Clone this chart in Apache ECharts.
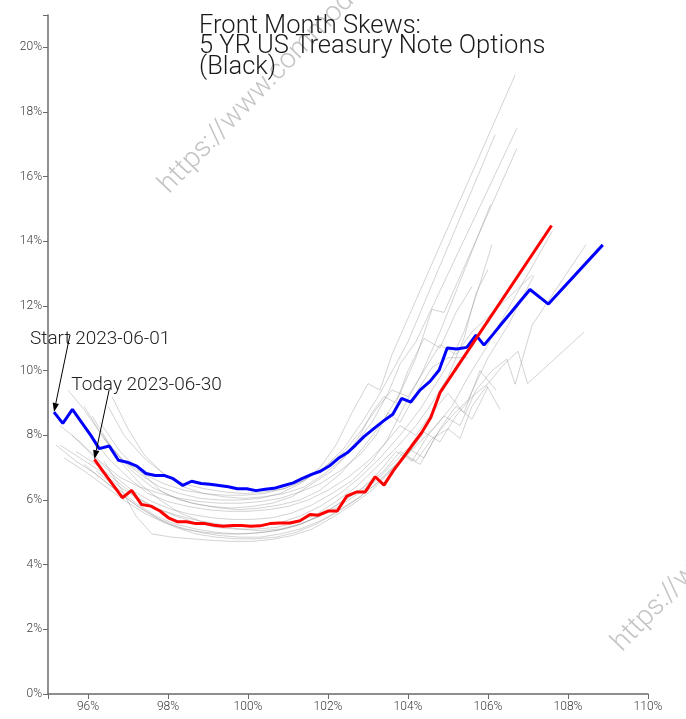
<!DOCTYPE html>
<html>
<head>
<meta charset="utf-8">
<script src="https://cdn.jsdelivr.net/npm/echarts@6/dist/echarts.min.js"></script>
<style>
html,body{margin:0;padding:0;background:#fff;}
#chart{width:686px;height:719px;}
</style>
</head>
<body>
<div id="chart"></div>
<script>
// ---------- data ----------
var titleText = "Front Month Skews:\n5 YR US Treasury Note Options\n(Black)";
var xTickValues = [95, 96, 98, 100, 102, 104, 106, 108, 110];
var xLabelValues = [96, 98, 100, 102, 104, 106, 108, 110];
var yTickValues = [0, 2, 4, 6, 8, 10, 12, 14, 16, 18, 20, 21];
var yLabelValues = [0, 2, 4, 6, 8, 10, 12, 14, 16, 18, 20];

var startLabel = "Start 2023-06-01";
var todayLabel = "Today 2023-06-30";

// start (2023-06-01) skew: [moneyness %, vol %]
var startSkew = [[95.15,8.72],[95.37,8.37],[95.61,8.80],[95.84,8.40],[96.07,8.00],[96.28,7.59],[96.53,7.67],[96.76,7.23],[96.98,7.17],[97.22,7.05],[97.45,6.82],[97.68,6.76],[97.90,6.76],[98.13,6.66],[98.37,6.45],[98.59,6.58],[98.83,6.51],[99.05,6.49],[99.28,6.45],[99.51,6.41],[99.73,6.35],[99.97,6.35],[100.20,6.29],[100.43,6.33],[100.65,6.36],[100.90,6.45],[101.13,6.53],[101.35,6.66],[101.59,6.79],[101.81,6.89],[102.03,7.05],[102.26,7.29],[102.48,7.46],[102.69,7.70],[102.90,7.96],[103.13,8.19],[103.38,8.44],[103.62,8.65],[103.84,9.14],[104.07,9.03],[104.30,9.40],[104.55,9.67],[104.78,10.02],[104.98,10.70],[105.22,10.67],[105.47,10.72],[105.70,11.10],[105.90,10.79],[106.13,11.13],[106.36,11.48],[106.59,11.82],[106.82,12.17],[107.05,12.51],[107.51,12.06],[108.87,13.89]];

// today (2023-06-30) skew
var todaySkew = [[96.16,7.26],[96.39,6.86],[96.63,6.46],[96.86,6.07],[97.09,6.30],[97.34,5.86],[97.57,5.81],[97.80,5.66],[98.01,5.45],[98.23,5.33],[98.47,5.33],[98.69,5.27],[98.93,5.27],[99.15,5.22],[99.38,5.19],[99.62,5.21],[99.84,5.21],[100.07,5.19],[100.30,5.20],[100.55,5.27],[100.80,5.29],[101.05,5.29],[101.30,5.36],[101.55,5.55],[101.76,5.53],[102.01,5.66],[102.23,5.66],[102.47,6.12],[102.72,6.25],[102.93,6.25],[103.18,6.72],[103.40,6.46],[103.63,6.90],[103.88,7.31],[104.09,7.67],[104.34,8.08],[104.57,8.55],[104.80,9.32],[107.59,14.49]];

// intermediate days' skews (grey)
var day01 = [[95.9,8.9],[96.3,8.1],[96.8,7.3],[97.3,6.8],[97.8,6.4],[98.3,6.2],[98.8,6.05],[99.3,6.0],[99.8,6.0],[100.3,6.05],[100.8,6.2],[101.3,6.5],[101.8,7.0],[102.2,7.7],[102.6,8.7],[103.0,9.6],[103.3,9.4],[103.6,10.5],[106.68,19.15]];
var day02 = [[95.5,9.4],[95.9,8.8],[96.4,7.9],[96.9,7.2],[97.4,6.8],[97.9,6.5],[98.4,6.3],[98.9,6.2],[99.4,6.15],[99.9,6.15],[100.4,6.2],[100.9,6.35],[101.4,6.6],[101.9,7.0],[102.4,7.6],[102.9,8.5],[103.3,9.3],[103.7,10.2],[104.0,10.9],[106.18,17.3]];
var day03 = [[96.1,8.6],[96.6,7.6],[97.1,6.9],[97.6,6.4],[98.1,6.1],[98.6,5.9],[99.1,5.8],[99.6,5.75],[100.1,5.8],[100.6,5.9],[101.1,6.1],[101.6,6.5],[102.1,6.9],[102.6,7.6],[103.1,8.4],[103.5,9.3],[103.8,10.2],[104.2,10.9],[106.72,17.49]];
var day04 = [[96.3,8.4],[96.8,7.5],[97.3,6.9],[97.8,6.3],[98.3,6.0],[98.8,5.85],[99.3,5.75],[99.8,5.7],[100.3,5.75],[100.8,5.85],[101.3,6.0],[101.8,6.3],[102.3,6.8],[102.8,7.5],[103.3,8.3],[103.8,9.3],[104.2,10.4],[104.6,11.9],[104.9,11.8],[106.72,16.87]];
var day05 = [[95.6,8.0],[96.1,7.4],[96.6,6.8],[97.1,6.3],[97.6,5.95],[98.1,5.7],[98.6,5.55],[99.1,5.45],[99.6,5.4],[100.1,5.4],[100.6,5.45],[101.1,5.6],[101.6,5.85],[102.1,6.2],[102.6,6.6],[103.1,7.2],[103.5,7.9],[103.9,8.9],[104.3,9.8],[104.8,11.2],[106.06,15.13]];
var day06 = [[95.3,7.7],[95.8,7.3],[96.3,6.9],[96.8,6.4],[97.3,6.0],[97.8,5.7],[98.3,5.5],[98.8,5.35],[99.3,5.25],[99.8,5.2],[100.3,5.2],[100.8,5.3],[101.3,5.5],[101.8,5.8],[102.3,6.2],[102.8,6.7],[103.3,7.3],[103.8,8.0],[104.3,8.8],[104.7,9.6],[105.1,10.4],[105.4,11.2],[105.7,12.3],[106.1,13.9]];
var day07 = [[95.7,7.5],[96.2,7.1],[96.7,6.6],[97.2,6.1],[97.7,5.75],[98.2,5.5],[98.7,5.3],[99.2,5.15],[99.7,5.1],[100.2,5.1],[100.7,5.15],[101.2,5.3],[101.7,5.55],[102.2,5.95],[102.7,6.4],[103.2,7.0],[103.7,7.6],[104.2,8.3],[104.6,9.0],[105.0,9.8],[105.4,11.0],[105.7,12.4],[106.0,13.13]];
var day08 = [[95.2,7.7],[95.7,7.2],[96.2,6.8],[96.7,6.3],[97.2,5.85],[97.7,5.45],[98.2,5.15],[98.7,4.95],[99.2,4.85],[99.7,4.8],[100.2,4.8],[100.7,4.85],[101.2,5.0],[101.7,5.25],[102.2,5.6],[102.7,6.0],[103.2,6.5],[103.6,7.0],[104.0,7.4],[104.4,8.1],[104.8,7.8],[105.2,8.6],[105.6,9.2],[106.0,9.6],[106.4,10.2],[106.75,10.6],[106.99,9.6],[108.4,11.19]];
var day09 = [[96.4,7.9],[96.8,7.2],[97.3,6.5],[97.8,6.0],[98.3,5.6],[98.8,5.35],[99.3,5.2],[99.8,5.1],[100.3,5.05],[100.8,5.1],[101.3,5.25],[101.8,5.5],[102.3,5.9],[102.8,6.3],[103.3,6.9],[103.7,7.5],[104.1,7.2],[104.5,8.0],[104.9,8.6],[105.3,8.3],[105.7,9.4],[106.1,10.0],[106.47,10.36],[106.68,9.58],[107.1,11.4],[108.45,13.9]];
var day10 = [[95.9,7.1],[96.3,6.7],[96.8,6.2],[97.3,5.75],[97.8,5.4],[98.3,5.15],[98.8,5.0],[99.3,4.9],[99.8,4.85],[100.3,4.85],[100.8,4.95],[101.3,5.1],[101.8,5.35],[102.3,5.7],[102.8,6.1],[103.3,6.6],[103.8,7.2],[104.3,7.8],[104.7,8.3],[105.1,8.9],[105.5,9.8],[105.9,10.6],[107.6,14.3]];
var day11 = [[96.4,7.2],[96.8,6.4],[97.2,5.5],[97.6,4.95],[98.1,4.85],[98.6,4.8],[99.1,4.75],[99.6,4.72],[100.1,4.72],[100.6,4.78],[101.1,4.9],[101.6,5.1],[102.1,5.45],[102.6,5.85],[103.1,6.3],[103.5,6.8],[103.9,7.4],[104.3,7.1],[104.7,8.0],[105.1,8.6],[105.5,9.1],[106.0,10.4],[106.5,11.4],[107.15,12.95]];
var day12 = [[95.4,7.3],[95.9,6.9],[96.4,6.45],[96.9,6.0],[97.4,5.6],[97.9,5.3],[98.4,5.1],[98.9,5.0],[99.4,4.95],[99.9,4.95],[100.4,5.0],[100.9,5.1],[101.4,5.3],[101.9,5.6],[102.4,6.0],[102.9,6.4],[103.4,6.9],[103.8,7.5],[104.2,7.2],[104.6,7.9],[105.0,8.2],[105.3,7.9],[105.6,8.9],[105.97,9.53],[106.3,8.8]];
var day13 = [[96.0,8.1],[96.5,7.3],[97.0,6.7],[97.5,6.2],[98.0,5.95],[98.5,5.8],[99.0,5.7],[99.5,5.65],[100.0,5.65],[100.5,5.7],[101.0,5.8],[101.5,6.0],[102.0,6.3],[102.5,6.7],[103.0,7.2],[103.4,7.7],[103.8,8.3],[104.2,8.0],[104.6,8.7],[105.0,9.3],[105.4,8.7],[105.8,10.0],[106.2,9.4]];
var day14 = [[96.5,8.9],[96.9,8.0],[97.4,7.3],[97.9,6.8],[98.4,6.5],[98.9,6.35],[99.4,6.25],[99.9,6.2],[100.4,6.25],[100.9,6.35],[101.4,6.6],[101.9,7.0],[102.4,7.5],[102.8,8.1],[103.2,8.8],[103.6,9.4],[104.0,9.2],[104.4,10.0],[104.8,10.8],[105.2,10.5],[105.6,11.2],[107.1,12.95]];
var day15 = [[95.3,8.3],[95.8,7.8],[96.3,7.2],[96.8,6.7],[97.3,6.4],[97.8,6.2],[98.3,6.05],[98.8,5.95],[99.3,5.9],[99.8,5.9],[100.3,5.95],[100.8,6.05],[101.3,6.25],[101.8,6.5],[102.3,6.9],[102.8,7.4],[103.2,8.0],[103.5,8.7],[103.8,8.4],[104.2,9.3],[104.6,10.1],[105.0,10.4],[105.5,10.4]];
var day16 = [[96.2,6.9],[96.7,6.4],[97.2,5.9],[97.7,5.5],[98.2,5.25],[98.7,5.1],[99.2,5.0],[99.7,4.95],[100.2,4.98],[100.7,5.05],[101.2,5.2],[101.7,5.45],[102.2,5.75],[102.7,6.15],[103.2,6.6],[103.6,7.1],[104.0,7.6],[104.4,7.3],[104.8,8.2],[105.2,8.9],[105.6,8.5],[106.0,9.5]];
var day17 = [[96.6,9.2],[97.0,8.2],[97.4,7.4],[97.9,6.8],[98.4,6.4],[98.9,6.2],[99.4,6.1],[99.9,6.05],[100.4,6.1],[100.9,6.2],[101.4,6.4],[101.9,6.8],[102.4,7.3],[102.8,8.0],[103.1,8.7],[103.4,9.2],[103.7,9.0],[104.0,10.0],[104.4,11.0],[104.8,10.7],[105.2,11.8],[105.6,12.6]];
var greyDays = [day01,day02,day03,day04,day05,day06,day07,day08,day09,day10,day11,day12,day13,day14,day15,day16,day17];

// annotation anchors in data coordinates [moneyness, vol]
var startTextAt = [94.55, 10.98];
var startArrowFrom = [95.55, 11.11];
var todayTextAt = [95.58, 9.55];
var todayArrowFrom = [96.53, 9.41];

var watermark = "https://www.commoditycharts.com";

// ---------- chart ----------
var FONT = "Roboto, 'Noto Sans', sans-serif";
var chart = echarts.init(document.getElementById('chart'), null, {renderer: 'canvas'});

var series = [];
greyDays.forEach(function (d, i) {
  series.push({
    type: 'line', name: 'day' + (i + 1), data: d, symbol: 'none', silent: true,
    lineStyle: {color: 'rgba(140,140,140,0.38)', width: 1}, z: 2
  });
});
series.push({
  type: 'line', name: 'start', data: startSkew, symbol: 'none',
  lineStyle: {color: '#0000ff', width: 3}, z: 3
});
series.push({
  type: 'line', name: 'today', data: todaySkew, symbol: 'none',
  lineStyle: {color: '#ff0000', width: 3}, z: 4
});

var axisLine = {show: true, lineStyle: {color: '#6a6a6a', width: 1.5}};
var axisLabel = {color: '#3a3a3a', fontSize: 12, fontFamily: FONT, fontWeight: 300};
var axisTick = {show: true, length: 5, lineStyle: {color: '#6a6a6a', width: 1}};

chart.setOption({
  animation: false,
  backgroundColor: '#fff',
  title: {
    text: titleText, left: 194, top: 11,
    textStyle: {fontFamily: FONT, fontWeight: 300, fontSize: 25.5, lineHeight: 20.5, color: '#1a1a1a'}
  },
  grid: {left: 48, right: 38, top: 15, bottom: 25},
  xAxis: {
    type: 'value', min: 95, max: 110,
    axisLine: axisLine, splitLine: {show: false},
    axisTick: Object.assign({}, axisTick, {customValues: xTickValues}),
    axisLabel: Object.assign({}, axisLabel, {customValues: xLabelValues, margin: 7,
      formatter: function (v) { return v + '%'; }})
  },
  yAxis: {
    type: 'value', min: 0, max: 21,
    axisLine: axisLine, splitLine: {show: false},
    axisTick: Object.assign({}, axisTick, {customValues: yTickValues}),
    axisLabel: Object.assign({}, axisLabel, {customValues: yLabelValues, margin: 6,
      formatter: function (v) { return v + '%'; }})
  },
  series: series
});

// annotation arrows, positioned through the chart's own scales
function arrow(fromData, toData) {
  var a = chart.convertToPixel({gridIndex: 0}, fromData);
  var b = chart.convertToPixel({gridIndex: 0}, toData);
  var dx = b[0] - a[0], dy = b[1] - a[1];
  var len = Math.sqrt(dx * dx + dy * dy);
  var ux = dx / len, uy = dy / len;
  var headLen = 9, headW = 3.2;
  var bx = b[0] - ux * headLen, by = b[1] - uy * headLen;
  return [
    {type: 'line', z: 20, silent: true,
      shape: {x1: a[0], y1: a[1], x2: bx, y2: by},
      style: {stroke: '#000', lineWidth: 1}},
    {type: 'polygon', z: 20, silent: true,
      shape: {points: [[b[0], b[1]], [bx - uy * headW, by + ux * headW], [bx + uy * headW, by - ux * headW]]},
      style: {fill: '#000'}}
  ];
}

var p1 = chart.convertToPixel({gridIndex: 0}, startTextAt);
var p2 = chart.convertToPixel({gridIndex: 0}, todayTextAt);
var graphics = [
  {type: 'text', x: 174, y: 199, rotation: 46 * Math.PI / 180, z: 0, silent: true,
    style: {text: watermark, font: "300 28px " + FONT, fill: '#c4c4c4', textVerticalAlign: 'bottom'}},
  {type: 'text', x: 627, y: 657, rotation: 46 * Math.PI / 180, z: 0, silent: true,
    style: {text: watermark, font: "300 28px " + FONT, fill: '#c4c4c4', textVerticalAlign: 'bottom'}},
  {type: 'text', x: p1[0], y: p1[1], z: 10, silent: true,
    style: {text: startLabel, font: "300 19px " + FONT, fill: '#222', textVerticalAlign: 'middle'}},
  {type: 'text', x: p2[0], y: p2[1], z: 10, silent: true,
    style: {text: todayLabel, font: "300 19px " + FONT, fill: '#222', textVerticalAlign: 'middle'}}
].concat(arrow(startArrowFrom, startSkew[0])).concat(arrow(todayArrowFrom, todaySkew[0]));

chart.setOption({graphic: graphics});
</script>
</body>
</html>
